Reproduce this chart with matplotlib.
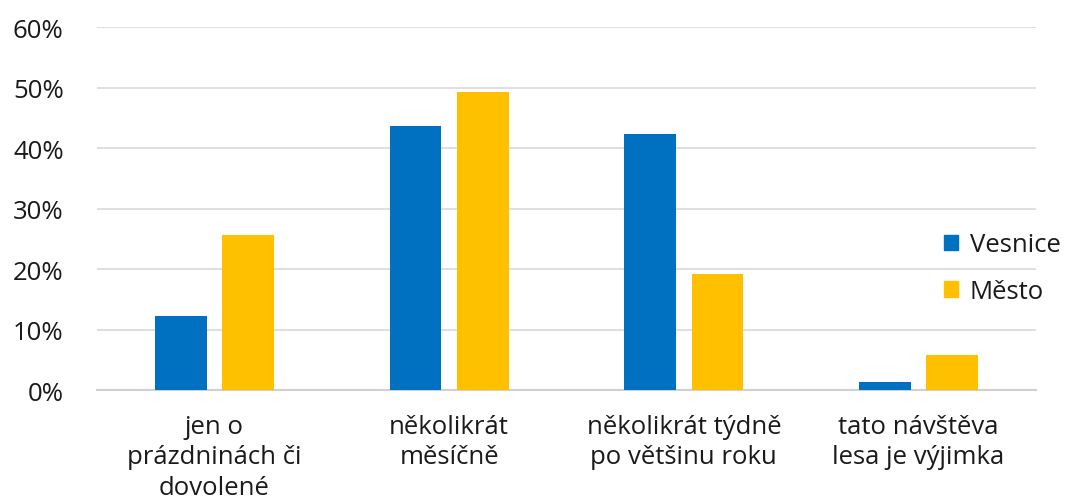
import matplotlib
matplotlib.use("Agg")
import matplotlib.pyplot as plt
import numpy as np
from matplotlib.patches import Patch

categories = ["jen o\nprázdninách či\ndovolené", "několikrát\nměsíčně",
              "několikrát týdně\npo většinu roku", "tato návštěva\nlesa je výjimka"]
vesnice = [12.2, 43.6, 42.3, 1.3]
mesto = [25.6, 49.3, 19.2, 5.8]
series_names = ["Vesnice", "Město"]
yticks = [0, 10, 20, 30, 40, 50, 60]

plt.rcParams['font.family'] = ['Open Sans', 'DejaVu Sans']
fig = plt.figure(figsize=(10.73, 5.02), dpi=100)
ax = fig.add_axes([0.0904, 0.2211, 0.8751, 0.7231])

x = np.arange(len(categories))
w = 0.22
c1, c2 = "#0070C0", "#FFC000"
ax.bar(x - 0.143, vesnice, w, color=c1, zorder=3)
ax.bar(x + 0.143, mesto, w, color=c2, zorder=3)

fs = 18.5
ax.set_xlim(-0.5, len(categories) - 0.5)
ax.set_ylim(0, 60)
ax.set_yticks(yticks)
ax.set_yticklabels([f"{t}%" for t in yticks], fontsize=fs, color="#1a1a1a")
ax.set_xticks(x)
ax.set_xticklabels(categories, fontsize=fs, color="#1a1a1a", linespacing=1.3)
ax.tick_params(axis="both", length=0)
ax.tick_params(axis="x", pad=17)
ax.tick_params(axis="y", pad=24)
ax.grid(axis="y", color="#d9d9d9", linewidth=1.2, zorder=0)
for s in ["top", "right", "left"]:
    ax.spines[s].set_visible(False)
ax.spines["bottom"].set_color("#d0d0d0")
ax.spines["bottom"].set_linewidth(1.5)

handles = [Patch(color=c1, label=series_names[0]), Patch(color=c2, label=series_names[1])]
leg = ax.legend(handles=handles, loc="center left", bbox_to_anchor=(0.902, 0.335),
                frameon=False, fontsize=fs, handlelength=0.55, handleheight=0.55,
                handletextpad=0.45, labelspacing=0.85, borderaxespad=0, borderpad=0)
for t in leg.get_texts():
    t.set_color("#1a1a1a")

fig.savefig("out.png", dpi=100)
